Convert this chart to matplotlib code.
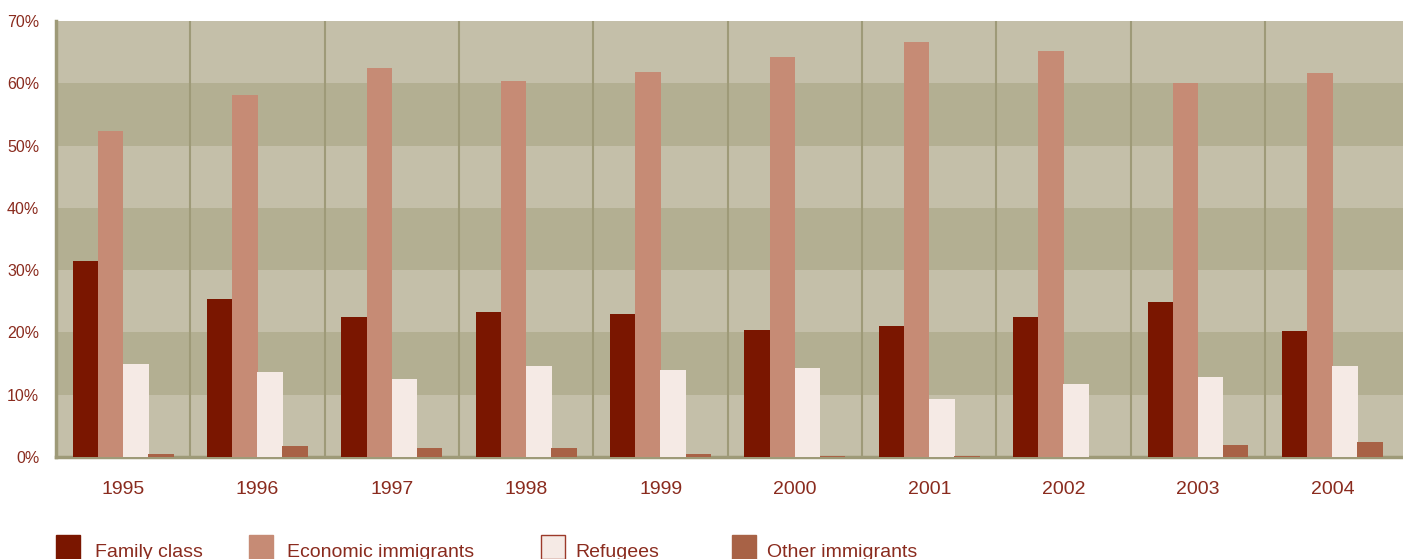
import matplotlib
matplotlib.use("Agg")
import matplotlib.pyplot as plt
from matplotlib.patches import Rectangle
import numpy as np

years = ["1995", "1996", "1997", "1998", "1999", "2000", "2001", "2002", "2003", "2004"]
family = [31.4, 25.3, 22.4, 23.2, 23.0, 20.4, 21.1, 22.4, 24.9, 20.3]
economic = [52.3, 58.1, 62.4, 60.3, 61.8, 64.2, 66.6, 65.2, 60.0, 61.6]
refugees = [15.0, 13.7, 12.6, 14.6, 14.0, 14.3, 9.3, 11.7, 12.9, 14.6]
other = [0.5, 1.8, 1.4, 1.4, 0.5, 0.2, 0.2, 0.0, 1.9, 2.4]
series_names = ["Family class", "Economic immigrants", "Refugees", "Other immigrants"]
yticks = [0, 10, 20, 30, 40, 50, 60, 70]

colors = ["#7a1600", "#c68b75", "#f5eae5", "#a86246"]
txt = "#8a2b1e"
grid_c = "#9e9a78"
bg_light = "#c4bfa9"
bg_dark = "#b3af92"

plt.rcParams['font.family'] = ['Liberation Sans', 'DejaVu Sans']

W, H = 1403, 559
fig = plt.figure(figsize=(W / 100, H / 100), dpi=100)
ax = fig.add_axes([56 / W, (H - 457) / H, (W - 56) / W, (457 - 21) / H])
ax.set_facecolor(bg_light)

for lo in (10, 30, 50):
    ax.axhspan(lo, lo + 10, color=bg_dark, zorder=0, lw=0)

x = np.arange(len(years))
bw = 0.19
data = [family, economic, refugees, other]
for i, (vals, c) in enumerate(zip(data, colors)):
    ax.bar(x + (i - 1.5) * 0.187, vals, width=bw, color=c, zorder=3, lw=0)

for b in np.arange(0.5, len(years) - 0.5, 1.0):
    ax.axvline(b, color=grid_c, lw=1.5, zorder=2)

ax.set_xlim(-0.5, len(years) - 0.5 + 0.026)
ax.set_ylim(0, 70)
ax.set_yticks(yticks)
ax.set_yticklabels([f"{v}%" for v in yticks], fontsize=11.5, color=txt)
ax.set_xticks(x)
ax.set_xticklabels(years, fontsize=14, color=txt)
ax.tick_params(axis='both', length=0)
ax.tick_params(axis='y', pad=12)
ax.tick_params(axis='x', pad=17)

for s in ("top", "right"):
    ax.spines[s].set_visible(False)
ax.spines["left"].set_color(grid_c)
ax.spines["left"].set_linewidth(2.5)
ax.spines["bottom"].set_color(grid_c)
ax.spines["bottom"].set_linewidth(2.5)

# legend
patch_x = [56, 249, 541, 732]
text_x = [95, 287, 575, 767]
for px, tx, name, c in zip(patch_x, text_x, series_names, colors):
    ec = "#9c3a2a" if name == "Refugees" else c
    fig.add_artist(Rectangle((px / W, 0), 24 / W, (H - 535) / H, transform=fig.transFigure,
                             facecolor=c, edgecolor=ec, lw=1.0))
    fig.text(tx / W, (H - 557) / H, name, fontsize=14, color=txt, ha="left", va="baseline")

fig.savefig("out.png", dpi=100)
